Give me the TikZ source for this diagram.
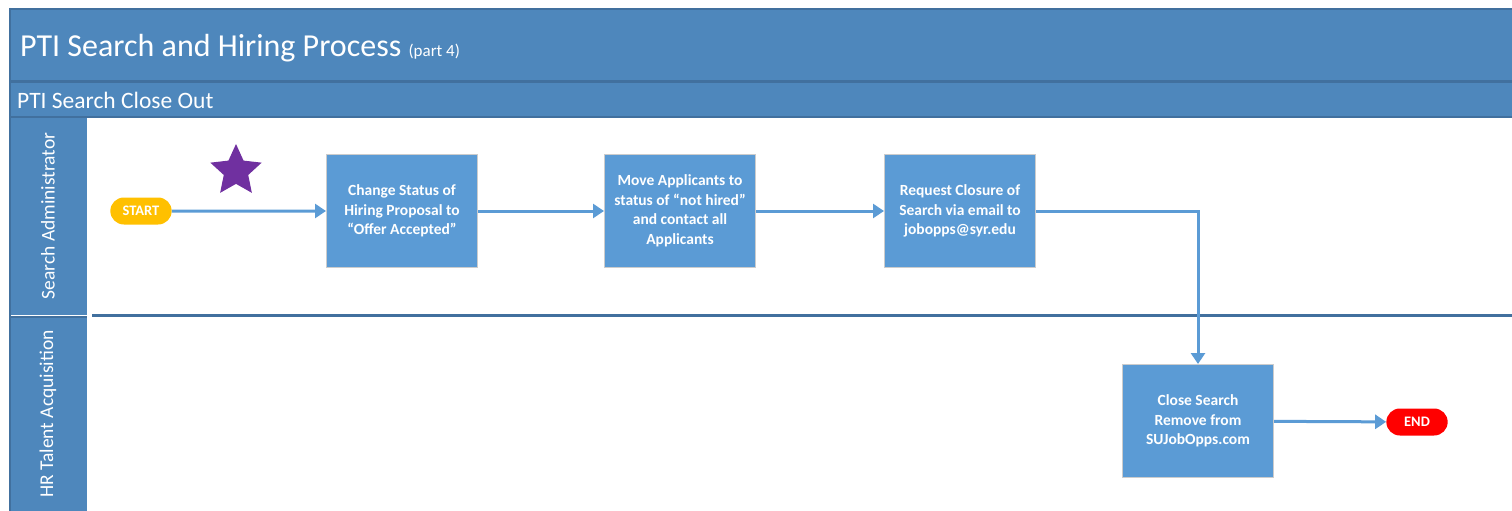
\documentclass[tikz,border=0pt]{standalone}
\usepackage{fontspec}
\setmainfont{Carlito}
\usetikzlibrary{arrows.meta,shapes.geometric}
\definecolor{hdr}{HTML}{4E87BC}
\definecolor{hdrline}{HTML}{41709E}
\definecolor{boxfill}{HTML}{5B9BD5}
\definecolor{flow}{HTML}{5B9BD5}
\definecolor{startc}{HTML}{FFC000}
\definecolor{starc}{HTML}{7030A0}
\tikzset{
  task/.style={rectangle, fill=boxfill, draw=black!20, line width=1pt, minimum width=151pt, minimum height=113pt,
    text=white, align=center, font=\fontsize{15.5}{19.5}\selectfont\bfseries, inner sep=2pt},
  term/.style={rounded rectangle, minimum width=68pt, minimum height=27pt, text=white, font=\fontsize{14.5}{16}\selectfont\bfseries},
  lane/.style={rotate=90, text=white, font=\fontsize{19.5}{22}\selectfont},
  flowline/.style={draw=flow, line width=3pt, -{Triangle[length=11pt,width=14pt]}}
}
\usetikzlibrary{shapes.misc}
\begin{document}
\begin{tikzpicture}[x=1pt, y=-1pt]
\useasboundingbox (0,0) rectangle (1512,511);
% header bands and lane heads
\fill[hdr] (10,8) rectangle (1512,118);
\draw[hdrline, line width=2pt] (10,9) -- (1512,9);
\draw[hdrline, line width=2.5pt] (10,81.5) -- (1512,81.5);
\draw[hdrline, line width=2.5pt] (10,117) -- (1512,117);
\fill[hdr] (10,118) rectangle (87,315);
\fill[hdr] (10,318) rectangle (87,511);
\draw[hdrline, line width=2pt] (10,8) -- (10,511);
\draw[hdrline, line width=2pt] (10,316.5) -- (87,316.5);
\draw[hdrline, line width=3pt] (92,315) -- (1512,315);
\node[anchor=base west, text=white, inner sep=0pt] (ttl) at (20,57) {\fontsize{32}{34}\selectfont PTI Search and Hiring Process \fontsize{17}{19}\selectfont(part 4)};
\node[anchor=west, text=white, inner sep=0pt] (sub) at (17,100) {\fontsize{23.5}{25}\selectfont PTI Search Close Out};
\node[lane] (l1) at (48,216) {Search Administrator};
\node[lane] (l2) at (48,414) {HR Talent Acquisition};
% flow
\node[star, star points=5, star point ratio=2.1, fill=starc, minimum size=54pt, inner sep=0pt] (st) at (236,171) {};
\node[term, fill=startc] (s0) at (141,211) {START};
\node[task] (b1) at (402,211) {Change Status of\\Hiring Proposal to\\``Offer Accepted''};
\node[task] (b2) at (680,211) {Move Applicants to\\status of ``not hired''\\and contact all\\Applicants};
\node[task] (b3) at (960,211) {Request Closure of\\Search via email to\\jobopps@syr.edu};
\node[task] (b4) at (1198,421) {Close Search\\Remove from\\SUJobOpps.com};
\node[term, fill=red] (e0) at (1417,422) {END};
\foreach \from/\to in {s0/b1, b1/b2, b2/b3, b4/e0}
    \draw[flowline] (\from) -- (\to);
\draw[flowline] (b3.east) -| (b4.north);
\end{tikzpicture}
\end{document}
